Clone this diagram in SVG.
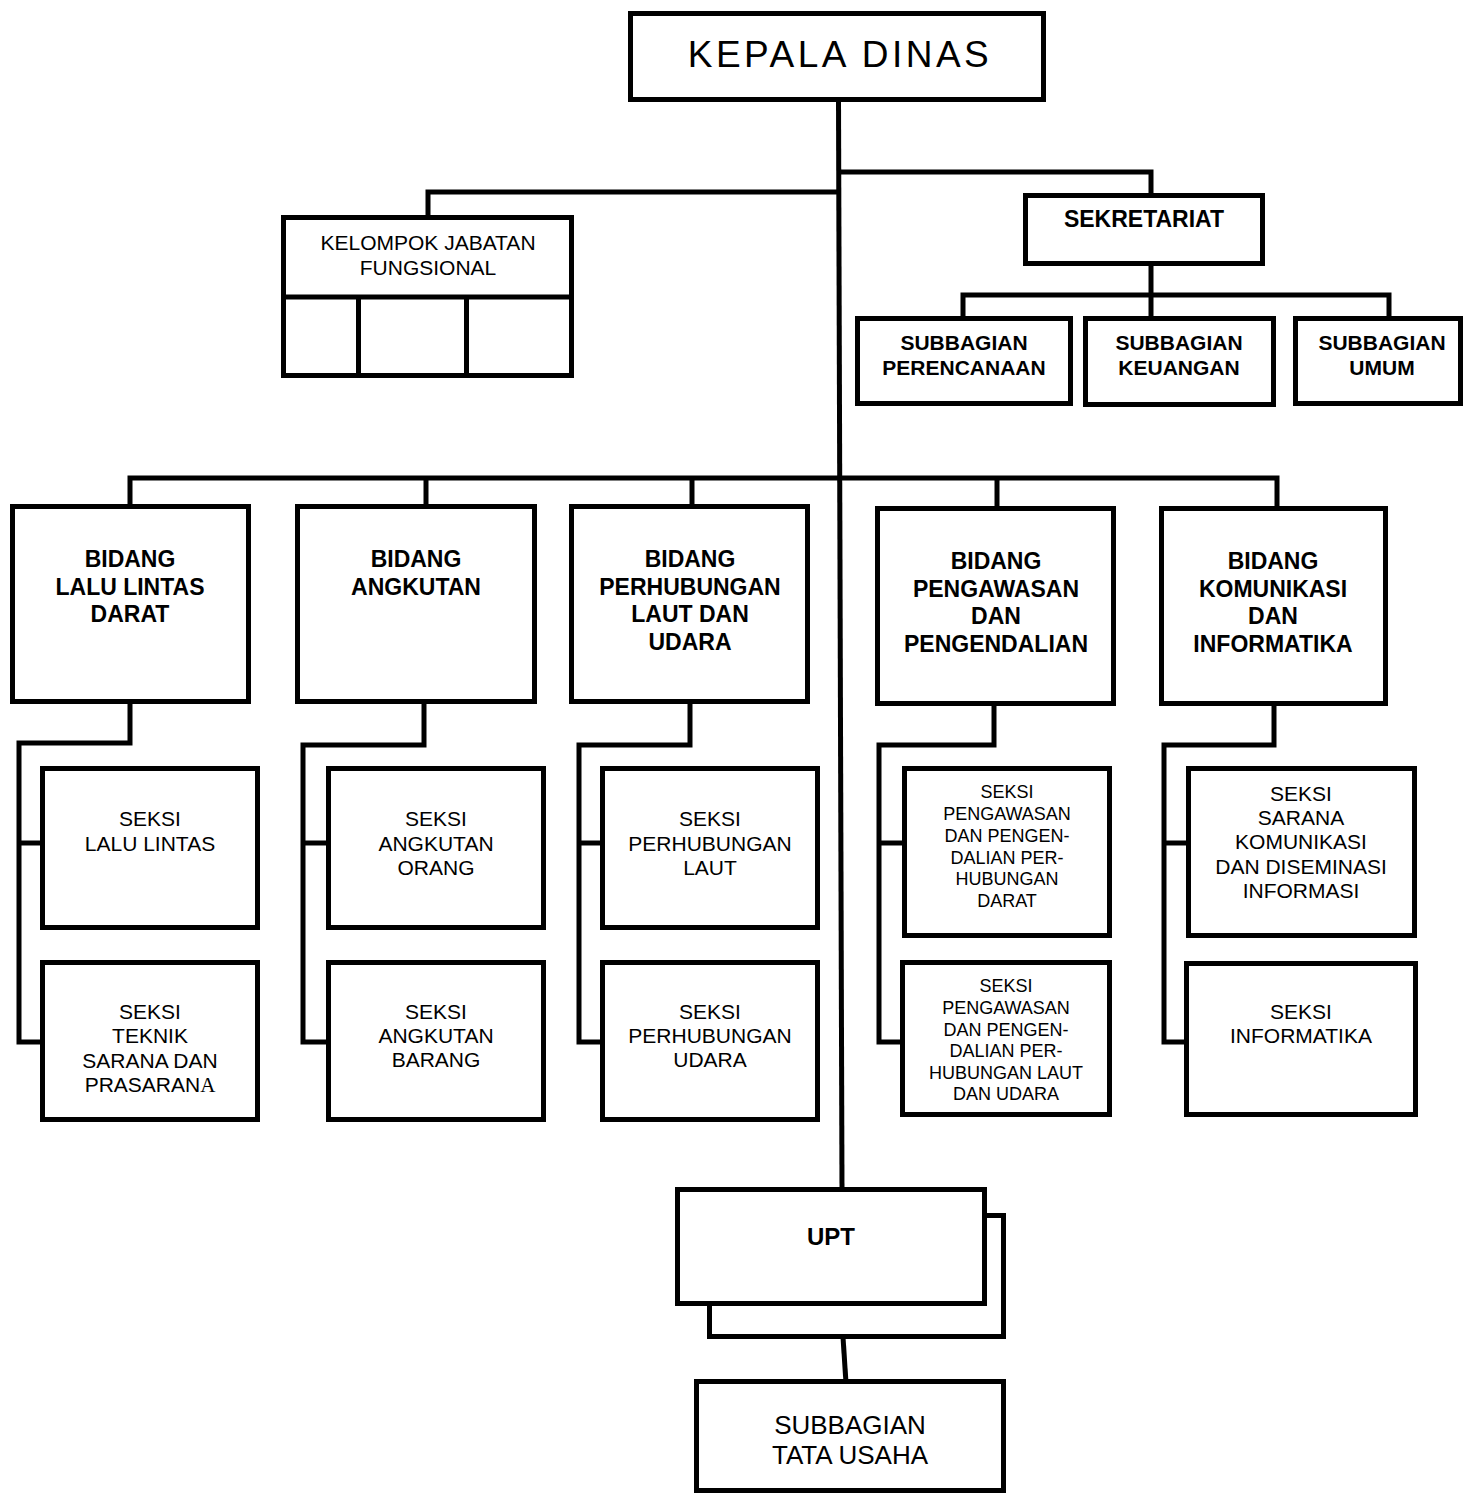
<svg xmlns="http://www.w3.org/2000/svg" width="1463" height="1494" viewBox="0 0 1463 1494">
  <style>
    .box { fill: #fff; stroke: #000; stroke-width: 5; }
    .ln { fill: none; stroke: #000; stroke-width: 5; stroke-linejoin: miter; }
    text { font-family: "Liberation Sans", Arial, sans-serif; fill: #000; text-anchor: middle; }
    .head { font-size: 37px; letter-spacing: 3.5px; }
    .bid { font-size: 23px; font-weight: bold; }
    .sub { font-size: 21px; font-weight: bold; }
    .sek { font-size: 21px; }
    .sm { font-size: 18px; }
    .kel { font-size: 21px; }
    .tu { font-size: 26px; }
  </style>
  <rect width="1463" height="1494" fill="#fff"/>

  <!-- connectors -->
  <g id="connectors">
    <line class="ln" x1="838.5" y1="100" x2="842" y2="1192"/>
    <polyline class="ln" points="839,172 1151,172 1151,196"/>
    <polyline class="ln" points="839,192 428,192 428,218"/>
    <line class="ln" x1="1151" y1="264" x2="1151" y2="319"/>
    <polyline class="ln" points="963,319 963,295 1389,295 1389,319"/>
    <polyline class="ln" points="130,507 130,478 1277,478 1277,509"/>
    <line class="ln" x1="426" y1="478" x2="426" y2="507"/>
    <line class="ln" x1="692" y1="478" x2="692" y2="507"/>
    <line class="ln" x1="997" y1="478" x2="997" y2="509"/>
    <polyline class="ln" points="130,702 130,743 19,743 19,1042 43,1042"/>
    <line class="ln" x1="19" y1="843" x2="43" y2="843"/>
    <polyline class="ln" points="424,702 424,745 303,745 303,1042 329,1042"/>
    <line class="ln" x1="303" y1="843" x2="329" y2="843"/>
    <polyline class="ln" points="690,702 690,745 579,745 579,1042 602,1042"/>
    <line class="ln" x1="579" y1="843" x2="602" y2="843"/>
    <polyline class="ln" points="994,704 994,745 879,745 879,1042 904,1042"/>
    <line class="ln" x1="879" y1="843" x2="905" y2="843"/>
    <polyline class="ln" points="1274,704 1274,745 1164,745 1164,1042 1188,1042"/>
    <line class="ln" x1="1164" y1="843" x2="1189" y2="843"/>
    <line class="ln" x1="843" y1="1337" x2="846" y2="1383"/>
  </g>

  <g id="kepala-dinas">
    <rect class="box" x="630.5" y="13.5" width="413" height="86"/>
    <text class="head" x="840" y="67">KEPALA DINAS</text>
  </g>

  <g id="kelompok-jabatan-fungsional">
    <rect class="box" x="283.5" y="217.5" width="288" height="158"/>
    <polyline class="ln" points="283.5,297 571.5,297"/>
    <line class="ln" x1="358.5" y1="297" x2="358.5" y2="375.5"/>
    <line class="ln" x1="466.5" y1="297" x2="466.5" y2="375.5"/>
    <text class="kel" x="428" y="250">KELOMPOK JABATAN</text>
    <text class="kel" x="428" y="275">FUNGSIONAL</text>
  </g>

  <g id="sekretariat">
    <rect class="box" x="1025.5" y="195.5" width="237" height="68"/>
    <text class="sub" x="1144" y="227" style="font-size:23px">SEKRETARIAT</text>
  </g>

  <g id="subbagian-perencanaan">
    <rect class="box" x="857.5" y="318.5" width="213" height="85"/>
    <text class="sub" x="964" y="350">SUBBAGIAN</text>
    <text class="sub" x="964" y="375">PERENCANAAN</text>
  </g>
  <g id="subbagian-keuangan">
    <rect class="box" x="1085.5" y="318.5" width="188" height="86"/>
    <text class="sub" x="1179" y="350">SUBBAGIAN</text>
    <text class="sub" x="1179" y="375">KEUANGAN</text>
  </g>
  <g id="subbagian-umum">
    <rect class="box" x="1295.5" y="318.5" width="165" height="85"/>
    <text class="sub" x="1382" y="350">SUBBAGIAN</text>
    <text class="sub" x="1382" y="375">UMUM</text>
  </g>

  <g id="bidang-lalu-lintas-darat">
    <rect class="box" x="12.5" y="506.5" width="236" height="195"/>
    <text class="bid" x="130" y="567">BIDANG</text>
    <text class="bid" x="130" y="595">LALU LINTAS</text>
    <text class="bid" x="130" y="622">DARAT</text>
  </g>
  <g id="bidang-angkutan">
    <rect class="box" x="297.5" y="506.5" width="237" height="195"/>
    <text class="bid" x="416" y="567">BIDANG</text>
    <text class="bid" x="416" y="595">ANGKUTAN</text>
  </g>
  <g id="bidang-perhubungan-laut-udara">
    <rect class="box" x="571.5" y="506.5" width="236" height="195"/>
    <text class="bid" x="690" y="567">BIDANG</text>
    <text class="bid" x="690" y="595">PERHUBUNGAN</text>
    <text class="bid" x="690" y="622">LAUT DAN</text>
    <text class="bid" x="690" y="650">UDARA</text>
  </g>
  <g id="bidang-pengawasan-pengendalian">
    <rect class="box" x="877.5" y="508.5" width="236" height="195"/>
    <text class="bid" x="996" y="569">BIDANG</text>
    <text class="bid" x="996" y="597">PENGAWASAN</text>
    <text class="bid" x="996" y="624">DAN</text>
    <text class="bid" x="996" y="652">PENGENDALIAN</text>
  </g>
  <g id="bidang-komunikasi-informatika">
    <rect class="box" x="1161.5" y="508.5" width="224" height="195"/>
    <text class="bid" x="1273" y="569">BIDANG</text>
    <text class="bid" x="1273" y="597">KOMUNIKASI</text>
    <text class="bid" x="1273" y="624">DAN</text>
    <text class="bid" x="1273" y="652">INFORMATIKA</text>
  </g>

  <g id="seksi-lalu-lintas">
    <rect class="box" x="42.5" y="768.5" width="215" height="159"/>
    <text class="sek" x="150" y="826">SEKSI</text>
    <text class="sek" x="150" y="851">LALU LINTAS</text>
  </g>
  <g id="seksi-teknik-sarana-prasarana">
    <rect class="box" x="42.5" y="962.5" width="215" height="157"/>
    <text class="sek" x="150" y="1019">SEKSI</text>
    <text class="sek" x="150" y="1043">TEKNIK</text>
    <text class="sek" x="150" y="1068">SARANA DAN</text>
    <text class="sek" x="150" y="1092">PRASARAN<tspan style="font-family:'Liberation Serif',serif">A</tspan></text>
  </g>
  <g id="seksi-angkutan-orang">
    <rect class="box" x="328.5" y="768.5" width="215" height="159"/>
    <text class="sek" x="436" y="826">SEKSI</text>
    <text class="sek" x="436" y="851">ANGKUTAN</text>
    <text class="sek" x="436" y="875">ORANG</text>
  </g>
  <g id="seksi-angkutan-barang">
    <rect class="box" x="328.5" y="962.5" width="215" height="157"/>
    <text class="sek" x="436" y="1019">SEKSI</text>
    <text class="sek" x="436" y="1043">ANGKUTAN</text>
    <text class="sek" x="436" y="1067">BARANG</text>
  </g>
  <g id="seksi-perhubungan-laut">
    <rect class="box" x="602.5" y="768.5" width="215" height="159"/>
    <text class="sek" x="710" y="826">SEKSI</text>
    <text class="sek" x="710" y="851">PERHUBUNGAN</text>
    <text class="sek" x="710" y="875">LAUT</text>
  </g>
  <g id="seksi-perhubungan-udara">
    <rect class="box" x="602.5" y="962.5" width="215" height="157"/>
    <text class="sek" x="710" y="1019">SEKSI</text>
    <text class="sek" x="710" y="1043">PERHUBUNGAN</text>
    <text class="sek" x="710" y="1067">UDARA</text>
  </g>
  <g id="seksi-pengawasan-darat">
    <rect class="box" x="904.5" y="768.5" width="205" height="167"/>
    <text class="sm" x="1007" y="798">SEKSI</text>
    <text class="sm" x="1007" y="820">PENGAWASAN</text>
    <text class="sm" x="1007" y="842">DAN PENGEN-</text>
    <text class="sm" x="1007" y="864">DALIAN PER-</text>
    <text class="sm" x="1007" y="885">HUBUNGAN</text>
    <text class="sm" x="1007" y="907">DARAT</text>
  </g>
  <g id="seksi-pengawasan-laut-udara">
    <rect class="box" x="902.5" y="962.5" width="207" height="152"/>
    <text class="sm" x="1006" y="992">SEKSI</text>
    <text class="sm" x="1006" y="1014">PENGAWASAN</text>
    <text class="sm" x="1006" y="1036">DAN PENGEN-</text>
    <text class="sm" x="1006" y="1057">DALIAN PER-</text>
    <text class="sm" x="1006" y="1079">HUBUNGAN LAUT</text>
    <text class="sm" x="1006" y="1100">DAN UDARA</text>
  </g>
  <g id="seksi-sarana-komunikasi">
    <rect class="box" x="1188.5" y="768.5" width="226" height="167"/>
    <text class="sek" x="1301" y="801">SEKSI</text>
    <text class="sek" x="1301" y="825">SARANA</text>
    <text class="sek" x="1301" y="849">KOMUNIKASI</text>
    <text class="sek" x="1301" y="874">DAN DISEMINASI</text>
    <text class="sek" x="1301" y="898">INFORMASI</text>
  </g>
  <g id="seksi-informatika">
    <rect class="box" x="1186.5" y="963.5" width="229" height="151"/>
    <text class="sek" x="1301" y="1019">SEKSI</text>
    <text class="sek" x="1301" y="1043">INFORMATIKA</text>
  </g>

  <g id="upt">
    <rect class="box" x="709.5" y="1215.5" width="294" height="121"/>
    <rect class="box" x="677.5" y="1189.5" width="307" height="114"/>
    <text class="bid" x="831" y="1245" style="font-size:24px">UPT</text>
  </g>

  <g id="subbagian-tata-usaha">
    <rect class="box" x="696.5" y="1381.5" width="307" height="109"/>
    <text class="tu" x="850" y="1434">SUBBAGIAN</text>
    <text class="tu" x="850" y="1464">TATA USAHA</text>
  </g>
</svg>
